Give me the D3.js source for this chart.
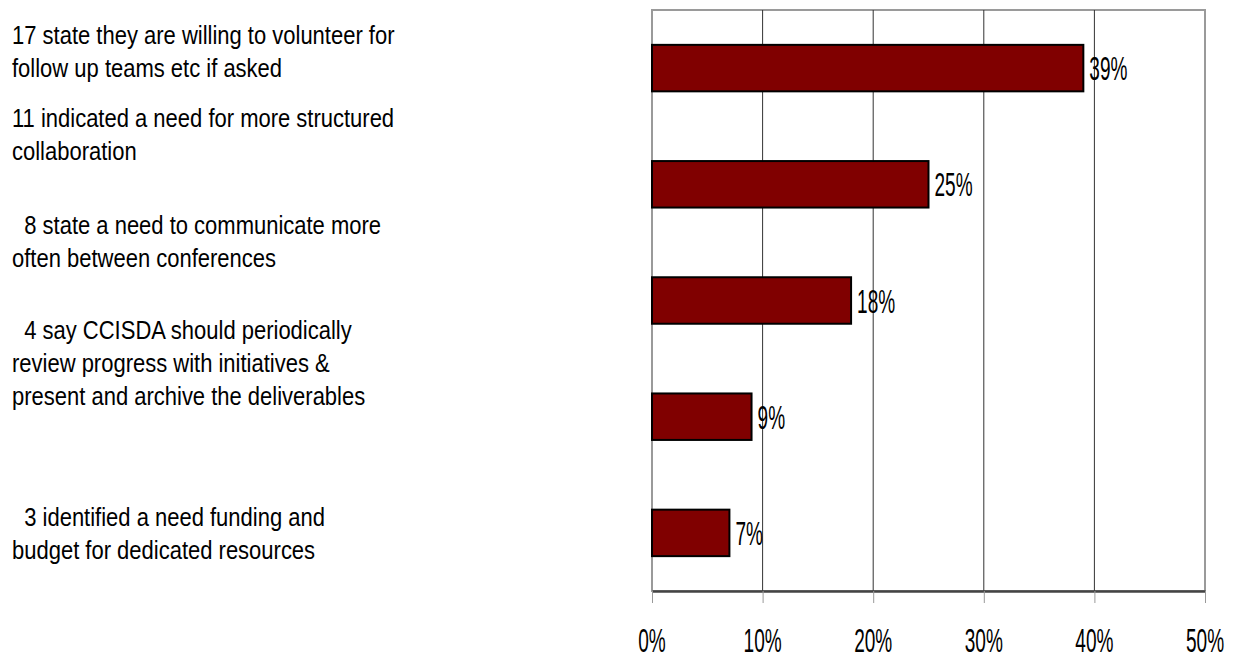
<!DOCTYPE html>
<html>
<head>
<meta charset="utf-8">
<script src="https://cdn.jsdelivr.net/npm/d3@7"></script>
<style>
  html, body { margin: 0; padding: 0; background: #fff; }
  svg { display: block; }
  text { font-family: "Liberation Sans", Arial, sans-serif; }
</style>
</head>
<body>
<svg id="chart" width="1234" height="662"></svg>
<script>
// Survey responses, share of respondents per theme
const categories = ["volunteer", "collaboration", "communicate", "review", "funding"];
const shares = [39, 25, 18, 9, 7];
const valueLabels = ["39%", "25%", "18%", "9%", "7%"];
const tickValues = [0, 10, 20, 30, 40, 50];
const tickLabels = ["0%", "10%", "20%", "30%", "40%", "50%"];
const descriptions = [
  ["17 state they are willing to volunteer for", "follow up teams etc if asked"],
  ["11 indicated a need for more structured", "collaboration"],
  ["  8 state a need to communicate more", "often between conferences"],
  ["  4 say CCISDA should periodically", "review progress with initiatives &", "present and archive the deliverables"],
  ["  3 identified a need funding and", "budget for dedicated resources"]
];

const svg = d3.select("#chart");

const plot = { left: 652, right: 1205, top: 10, bottom: 591 };

const x = d3.scaleLinear().domain([0, 50]).range([plot.left, plot.right]);
const y = d3.scaleBand().domain(categories).range([plot.top, plot.bottom])
  .paddingInner(0.6).paddingOuter(0.3);

// plot frame
svg.append("rect")
  .attr("x", plot.left).attr("y", plot.top)
  .attr("width", plot.right - plot.left).attr("height", plot.bottom - plot.top)
  .attr("fill", "none").attr("stroke", "#9a9a9a").attr("stroke-width", 2);

// vertical gridlines
svg.append("g").selectAll("line")
  .data(tickValues.filter(v => v > 0 && v < 50))
  .join("line")
  .attr("x1", d => x(d)).attr("x2", d => x(d))
  .attr("y1", plot.top).attr("y2", plot.bottom)
  .attr("stroke", "#333").attr("stroke-width", 1);

// x axis with tick marks below the plot
const xAxis = d3.axisBottom(x)
  .tickValues(tickValues)
  .tickFormat((d, i) => tickLabels[i])
  .tickSize(12)
  .tickSizeOuter(0);

const axisG = svg.append("g")
  .attr("transform", `translate(0,${plot.bottom})`)
  .call(xAxis);
axisG.select(".domain").attr("stroke", "#444").attr("stroke-width", 2.5);
axisG.selectAll(".tick line").attr("stroke", "#999").attr("stroke-width", 1);
axisG.selectAll(".tick text").remove();

// condensed tick labels
svg.append("g").selectAll("text")
  .data(tickValues)
  .join("text")
  .attr("transform", d => `translate(${x(d)},${652}) scale(0.56,1)`)
  .attr("text-anchor", "middle")
  .attr("font-size", 34)
  .attr("fill", "#000")
  .text((d, i) => tickLabels[i]);

// bars
svg.append("g").selectAll("rect")
  .data(categories)
  .join("rect")
  .attr("x", x(0))
  .attr("y", d => y(d))
  .attr("width", (d, i) => x(shares[i]) - x(0))
  .attr("height", y.bandwidth())
  .attr("fill", "#800000")
  .attr("stroke", "#000")
  .attr("stroke-width", 2);

// value labels
svg.append("g").selectAll("text")
  .data(categories)
  .join("text")
  .attr("transform", (d, i) => `translate(${x(shares[i]) + 6},${y(d) + y.bandwidth() / 2 + 12}) scale(0.56,1)`)
  .attr("font-size", 34)
  .attr("fill", "#000")
  .text((d, i) => valueLabels[i]);

// descriptive text blocks on the left
const blockTops = [44, 127, 234, 339, 526];
const lineGap = 33;
const descG = svg.append("g");
descriptions.forEach((lines, b) => {
  descG.append("g").selectAll("text")
    .data(lines)
    .join("text")
    .attr("transform", (d, i) => `translate(12,${blockTops[b] + i * lineGap}) scale(0.88,1)`)
    .attr("font-size", 25)
    .attr("fill", "#000")
    .style("white-space", "pre")
    .text(d => d);
});
</script>
</body>
</html>
